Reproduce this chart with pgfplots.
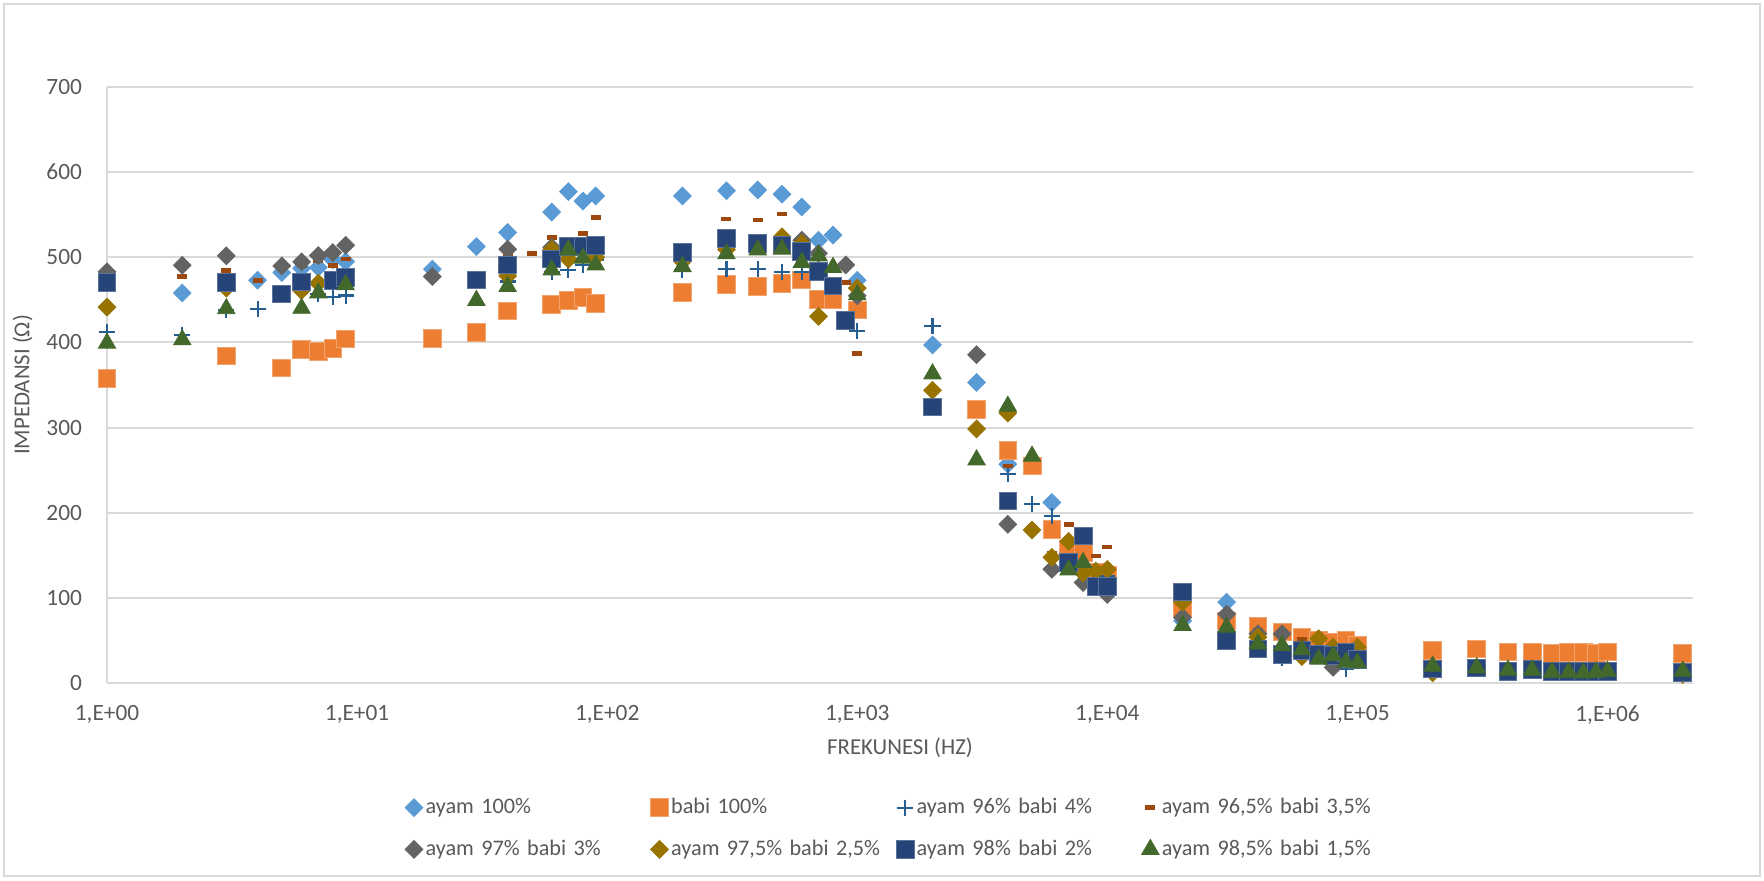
\documentclass[border=0pt]{standalone}
\usepackage{fontspec}
\setmainfont{Carlito}
\usepackage{pgfplots}
\pgfplotsset{compat=1.18}
\definecolor{cA}{RGB}{91,155,213}
\definecolor{cB}{RGB}{237,125,49}
\definecolor{cC}{RGB}{37,94,145}
\definecolor{cD}{RGB}{158,72,14}
\definecolor{cE}{RGB}{99,99,99}
\definecolor{cF}{RGB}{153,115,0}
\definecolor{cG}{RGB}{38,68,120}
\definecolor{cH}{RGB}{67,104,43}
\definecolor{gridgray}{RGB}{217,217,217}
\definecolor{labgray}{RGB}{89,89,89}
\begin{document}
\begin{tikzpicture}
\useasboundingbox (0,0) rectangle (635.04pt,316.8pt);
\draw[draw=gridgray, line width=0.7pt] (1.5pt,1.5pt) rectangle (633.5pt,315.3pt);
\begin{axis}[
  at={(38.52pt,70.92pt)}, anchor=south west,
  scale only axis, width=571pt, height=214.6pt,
  xmode=log, xmin=1, xmax=2.2e6, ymin=0, ymax=700,
  ytick={0,100,...,700},
  xtick={1,10,100,1000,10000,100000,1000000},
  xticklabels={{1,E+00},{1,E+01},{1,E+02},{1,E+03},{1,E+04},{1,E+05},{1,E+06}},
  ymajorgrids, major grid style={draw=gridgray, line width=0.7pt},
  axis x line=bottom, axis y line=left,
  axis line style={-, draw=gridgray, line width=0.7pt},
  major tick length=0pt, minor tick length=0pt,
  tick label style={font=\fontsize{8.4}{10}\selectfont, text=labgray},
  xticklabel style={yshift=-4.5pt},
  yticklabel style={xshift=-5.5pt},
  /pgf/number format/assume math mode=true,
  label style={font=\fontsize{8.2}{10}\selectfont, text=labgray},
  xlabel={FREKUNESI (HZ)},
  ylabel={IMPEDANSI (Ω)},
  xlabel style={at={(axis description cs:0.5,-0.109)}, anchor=center},
  ylabel style={at={(axis description cs:-0.0532,0.5)}, anchor=center},
  clip=false,
  legend columns=4,
  legend cell align=left,
  legend image code/.code={\draw[#1] plot coordinates {(0pt,0pt)};},
  legend style={
    at={(axis description cs:0.497,-0.173)}, anchor=north,
    draw=none, fill=none,
    font=\fontsize{8}{9.5}\selectfont, text=labgray,
    /tikz/every even column/.append style={column sep=0.5pt},
    nodes={inner xsep=1pt, inner ysep=2pt, text width=79.5pt, align=left},
    row sep=4pt,
  },
]
% ayam 100%
\addplot[only marks, mark=square*, mark size=2.25pt, mark options={rotate=45, fill=cA, draw=cA, line width=0.3pt}] coordinates {
(1,471) (2,458) (4,473) (5,482) (6,487) (7,488) (8,497) (9,495)
(20,486) (30,512.5) (40,529) (60,553) (70,577) (80,566) (90,572)
(200,572) (300,578) (400,579) (500,574) (600,559) (700,520) (800,526) (1000,473)
(2000,397) (3000,353) (4000,257) (6000,212)
(20000,73) (30000,95) (50000,34) (70000,34) (90000,36) (200000,16.6) (500000,15.8) (1000000,13.8) (2000000,12.6)
};
\addlegendentry{ayam 100\%}
% babi 100%
\addplot[only marks, mark=square*, mark size=3.2pt, mark options={fill=cB, draw=cB!70!white, line width=0.3pt}] coordinates {
(1,358) (3,384) (5,370) (6,392) (7,389) (8,392.6) (9,404)
(20,405) (30,411.7) (40,437) (60,445) (70,449) (80,452.7) (90,446)
(200,458.6) (300,468.4) (400,465.6) (500,469.5) (600,473.4) (700,450) (800,450) (1000,438)
(3000,321) (4000,273) (5000,255) (6000,180) (7000,157) (8000,153) (9000,130) (10000,127)
(20000,87) (30000,73) (40000,67) (50000,60) (60000,54) (70000,50) (80000,48) (90000,50) (100000,44)
(200000,38) (300000,40) (400000,36.5) (500000,36.5) (600000,35) (700000,35.6) (800000,35.6) (900000,35) (1000000,36.5) (2000000,34.5)
};
\addlegendentry{babi 100\%}
% ayam 96% babi 4%
\addplot[only marks, mark=+, mark size=2.9pt, mark options={draw=cC, line width=0.75pt}] coordinates {
(1,411.7) (2,409) (3,437.5) (4,439) (7,457) (8,453) (9,455)
(30,474) (40,471.5) (60,483) (70,485) (80,491) (90,497)
(200,485) (300,486) (400,486) (500,482.4) (600,483) (1000,413)
(2000,419.5) (4000,245) (5000,210) (6000,196) (10000,126)
(50000,30) (90000,16.5)
};
\addlegendentry{ayam 96\% babi 4\%}
% ayam 96,5% babi 3,5%
\addplot[only marks, mark=-, mark size=1.8pt, mark options={draw=cD, line width=1.7pt}] coordinates {
(1,484) (2,477) (3,484.8) (4,473) (6,490) (7,496) (8,490.6) (9,498)
(40,504.7) (50,504.7) (60,523) (80,528) (90,546.5)
(300,545) (400,543.7) (500,550.8) (900,470.7) (1000,386.7)
(4000,254.7) (6000,152) (7000,186.3) (9000,149) (10000,159.6)
(40000,61.6) (60000,51.8)
};
\addlegendentry{ayam 96,5\% babi 3,5\%}
% ayam 97% babi 3%
\addplot[only marks, mark=square*, mark size=2.25pt, mark options={rotate=45, fill=cE, draw=cE, line width=0.3pt}] coordinates {
(1,483) (2,490.6) (3,501.6) (5,489.8) (6,494.5) (7,502) (8,505.5) (9,514)
(20,477.3) (40,509.4) (60,511.7)
(600,520) (700,504.7) (900,491) (1000,454.7)
(3000,385.5) (4000,186.3) (6000,133.6) (8000,118) (10000,104)
(20000,77) (30000,81) (40000,57.7) (50000,57.7) (80000,18.5)
};
\addlegendentry{ayam 97\% babi 3\%}
% ayam 97,5% babi 2,5%
\addplot[only marks, mark=square*, mark size=2.25pt, mark options={rotate=45, fill=cF, draw=cF, line width=0.3pt}] coordinates {
(1,441.4) (3,463.7) (6,461) (7,469.5)
(40,478) (60,509) (70,497.7) (90,500)
(200,495) (300,509) (500,524) (600,516) (700,430.5) (1000,463.7)
(2000,343.8) (3000,298.4) (4000,317) (5000,179.7) (6000,147.5) (7000,166.3) (8000,129) (9000,131.4) (10000,133.4)
(20000,95) (40000,53.7) (60000,31) (70000,52) (80000,42) (100000,42) (200000,12) (2000000,10)
};
\addlegendentry{ayam 97,5\% babi 2,5\%}
% ayam 98% babi 2%
\addplot[only marks, mark=square*, mark size=3.2pt, mark options={fill=cG, draw=cG!75!white, line width=0.3pt}] coordinates {
(1,470.7) (3,470.7) (5,457) (6,471) (8,472.7) (9,476.6)
(30,473.4) (40,491) (60,498) (70,512.5) (80,513.3) (90,514)
(200,505.9) (300,522) (400,516.4) (500,514.5) (600,506.6) (700,483) (800,466.4) (900,425.8)
(2000,324.2) (4000,213.7) (7000,141.4) (8000,172.7) (9000,113.8) (10000,113)
(20000,107) (30000,50) (40000,40) (50000,34) (60000,38) (70000,34) (80000,32) (90000,36) (100000,28)
(200000,16.6) (300000,17.8) (400000,13.8) (500000,15.8) (600000,13.8) (700000,13.8) (800000,13.8) (900000,13.8) (1000000,13.8) (2000000,12.6)
};
\addlegendentry{ayam 98\% babi 2\%}
% ayam 98,5% babi 1,5%
\addplot[only marks, mark=triangle*, mark size=3.6pt, mark options={fill=cH, draw=cH, line width=0.3pt}] coordinates {
(1,399) (2,403) (3,439.5) (6,440) (7,458) (9,467.6)
(30,449.2) (40,465.6) (60,485) (70,508.6) (80,498.8) (90,491)
(200,489) (300,504) (400,508.6) (500,509.4) (600,493.8) (700,501.6) (800,488) (1000,455.9)
(2000,363) (3000,262) (4000,325) (5000,266.4) (7000,132.8) (8000,141.4)
(20000,67.5) (30000,65.5) (40000,46) (50000,44) (60000,39) (70000,28) (80000,32) (90000,24.3) (100000,23.5)
(200000,19.8) (300000,17.8) (400000,15) (500000,15) (600000,12.6) (700000,12.6) (800000,11.9) (900000,12.6) (1000000,13.8) (2000000,13.8)
};
\addlegendentry{ayam 98,5\% babi 1,5\%}
\end{axis}
\end{tikzpicture}
\end{document}
